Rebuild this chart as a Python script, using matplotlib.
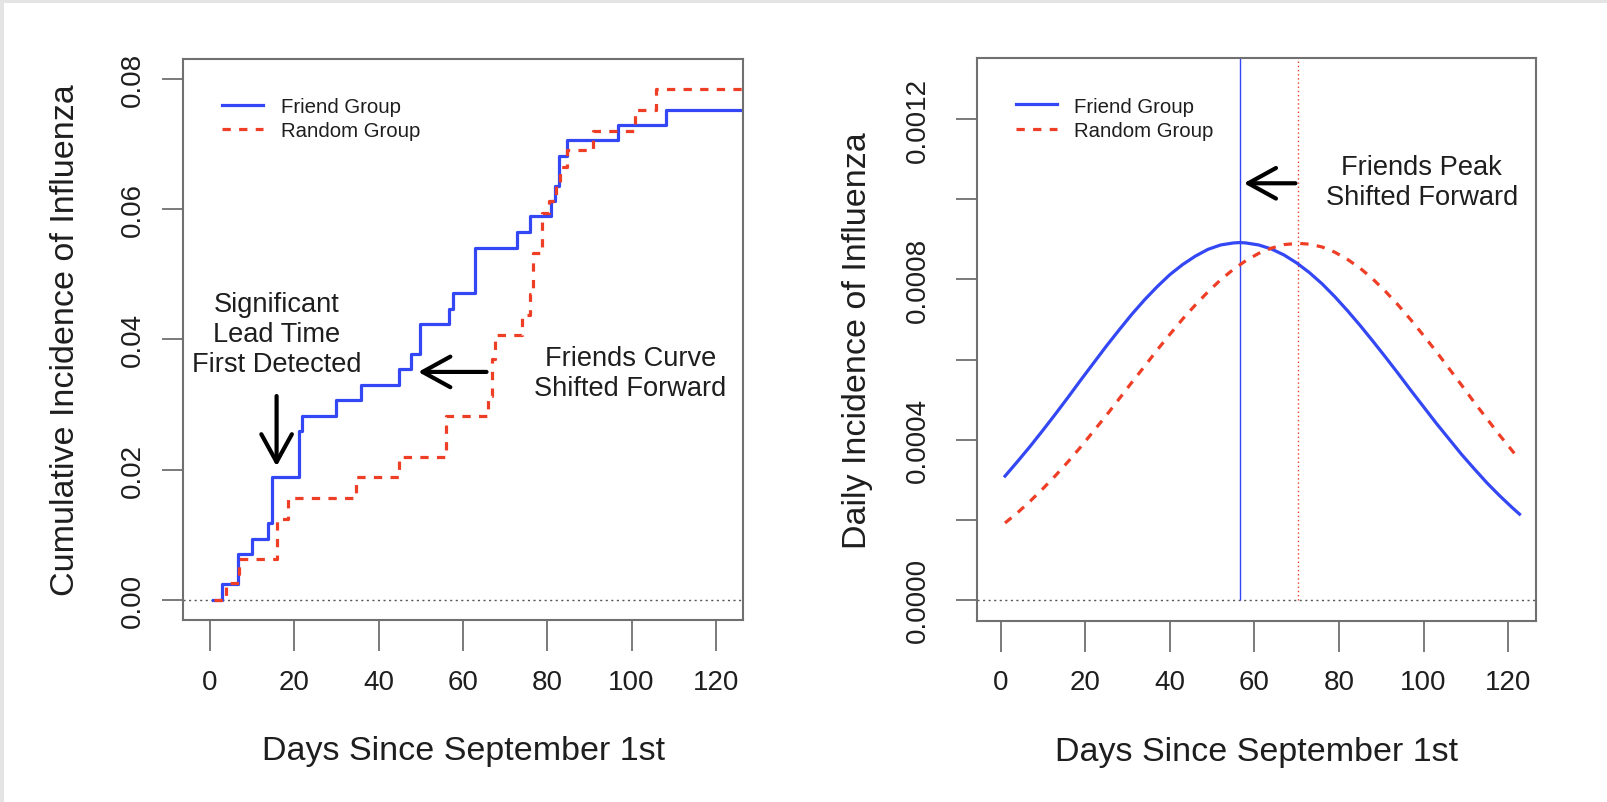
import matplotlib.pyplot as plt
from matplotlib.lines import Line2D
from matplotlib.patches import Rectangle

plt.rcParams['font.family'] = ['Liberation Sans', 'DejaVu Sans']

# cumulative incidence: day of each step and level after the step
cum_days_friend = [0.8, 2.8, 6.7, 9.9, 13.8, 14.6, 21.0, 21.8, 29.8, 35.8, 44.9, 47.6,
                   49.8, 56.6, 57.7, 62.9, 72.9, 75.8, 80.8, 81.9, 82.7, 84.8, 96.9,
                   108.2, 130.0]
cum_friend = [0.0, 0.0024, 0.0071, 0.0094, 0.0118, 0.0189, 0.0259, 0.0283, 0.0307,
              0.0330, 0.0354, 0.0378, 0.0424, 0.0447, 0.0471, 0.0541, 0.0565, 0.0589,
              0.0612, 0.0635, 0.0682, 0.0707, 0.0730, 0.0753, 0.0753]
cum_days_random = [1.0, 3.8, 6.8, 15.8, 18.6, 34.6, 44.9, 56.0, 66.0, 66.8, 67.5, 74.0,
                   75.9, 76.7, 78.7, 80.5, 82.0, 83.0, 84.8, 90.8, 100.9, 105.8, 130.0]
cum_random = [0.0, 0.0026, 0.0063, 0.0124, 0.0157, 0.0188, 0.0219, 0.0283, 0.0313,
              0.0370, 0.0406, 0.0438, 0.0469, 0.0532, 0.0594, 0.0612, 0.0640, 0.0665,
              0.0691, 0.0720, 0.0752, 0.0784, 0.0784]

# daily incidence (smoothed curves)
daily_days_friend = [1, 4, 7, 10, 13, 16, 19, 22, 25, 28, 31, 34, 37, 40, 43, 46, 49,
                     52, 55, 56.6, 58, 61, 64, 67, 70, 73, 76, 79, 82, 85, 88, 91, 94,
                     97, 100, 103, 106, 109, 112, 115, 118, 121, 122.7]
daily_friend = [0.000309, 0.000346, 0.000384, 0.000424, 0.000465, 0.000507, 0.000550,
                0.000592, 0.000634, 0.000674, 0.000713, 0.000749, 0.000782, 0.000812,
                0.000837, 0.000858, 0.000875, 0.000886, 0.000891, 0.000892, 0.000891,
                0.000886, 0.000876, 0.000861, 0.000841, 0.000817, 0.000789, 0.000757,
                0.000722, 0.000685, 0.000646, 0.000606, 0.000565, 0.000523, 0.000482,
                0.000441, 0.000402, 0.000363, 0.000327, 0.000292, 0.000260, 0.000230,
                0.000214]
daily_days_random = [1, 4, 7, 10, 13, 16, 19, 22, 25, 28, 31, 34, 37, 40, 43, 46, 49,
                     52, 55, 58, 61, 64, 67, 70.4, 73, 76, 79, 82, 85, 88, 91, 94, 97,
                     100, 103, 106, 109, 112, 115, 118, 121, 122.7]
daily_random = [0.000192, 0.000218, 0.000247, 0.000278, 0.000311, 0.000346, 0.000383,
                0.000422, 0.000461, 0.000502, 0.000543, 0.000583, 0.000624, 0.000663,
                0.000701, 0.000736, 0.000769, 0.000799, 0.000825, 0.000847, 0.000865,
                0.000878, 0.000887, 0.000890, 0.000888, 0.000881, 0.000868, 0.000850,
                0.000828, 0.000801, 0.000770, 0.000736, 0.000699, 0.000660, 0.000620,
                0.000578, 0.000536, 0.000493, 0.000452, 0.000411, 0.000372, 0.000350]
peak_friend = 56.6
peak_random = 70.4

x_ticks = [0, 20, 40, 60, 80, 100, 120]
cum_ticks = [0.00, 0.02, 0.04, 0.06, 0.08]
daily_ticks = [0.0, 0.0002, 0.0004, 0.0006, 0.0008, 0.0010, 0.0012]

blue = '#3347f4'
red = '#ef3e26'
gray = '#707070'
txt = '#1e1e1e'
dash = (0, (2.6, 2.6))

fig = plt.figure(figsize=(16.07, 8.03), dpi=100)
fig.add_artist(Rectangle((0, 0), 0.0028, 1, transform=fig.transFigure, color='#e4e4e4', lw=0))
fig.add_artist(Rectangle((0, 0.9944), 1, 0.0056, transform=fig.transFigure, color='#e4e4e4', lw=0))

ax1 = fig.add_axes([0.11406, 0.22665, 0.34847, 0.69863])
ax2 = fig.add_axes([0.60778, 0.22578, 0.34804, 0.70037])


def style(ax, ypad):
    for s in ax.spines.values():
        s.set_color(gray)
        s.set_linewidth(1.5)
    ax.tick_params(axis='x', length=22, width=1.3, color=gray, labelsize=20,
                   pad=13, labelcolor=txt)
    ax.tick_params(axis='y', length=15, width=1.3, color=gray, labelsize=20,
                   pad=ypad, labelcolor=txt)
    ax.set_xticks(x_ticks)
    ax.set_xlabel('Days Since September 1st', fontsize=24.5, color=txt)
    ax.xaxis.set_label_coords(0.5, -0.205)


def legend(ax):
    handles = [Line2D([], [], color=blue, lw=2.3),
               Line2D([], [], color=red, lw=2.3, linestyle=dash)]
    ax.legend(handles, ['Friend Group', 'Random Group'], loc='upper left',
              bbox_to_anchor=(0.07, 0.932), frameon=False, fontsize=14.7,
              handlelength=2.0, handletextpad=0.85, labelspacing=0.25,
              borderpad=0, borderaxespad=0, labelcolor=txt)


arrow = dict(arrowstyle='->, head_length=1.0, head_width=0.55', lw=3,
             color='black', shrinkA=0, shrinkB=0, mutation_scale=20)

# left: cumulative incidence
ax1.axhline(0, color='#555555', lw=1, linestyle=(0, (1.5, 2.5)))
ax1.step(cum_days_friend, cum_friend, where='post', color=blue, lw=2.3)
ax1.step(cum_days_random, cum_random, where='post', color=red, lw=2.3, linestyle=dash)
ax1.set_xlim(-6.33, 126.5)
ax1.set_ylim(-0.00311, 0.08307)
ax1.set_yticks(cum_ticks)
ax1.set_yticklabels(['0.00', '0.02', '0.04', '0.06', '0.08'], rotation=90, va='center')
ax1.set_ylabel('Cumulative Incidence of Influenza', fontsize=24.5, color=txt)
ax1.yaxis.set_label_coords(-0.1827, 0.5)
style(ax1, 12)
legend(ax1)
ax1.text(15.8, 0.0408, 'Significant\nLead Time\nFirst Detected', ha='center',
         va='center', fontsize=19.6, color=txt, linespacing=1.2)
ax1.annotate('', xy=(15.8, 0.0205), xytext=(15.8, 0.0313), arrowprops=arrow)
ax1.annotate('', xy=(49.4, 0.035), xytext=(65.6, 0.035), arrowprops=arrow)
ax1.text(99.7, 0.0349, 'Friends Curve\nShifted Forward', ha='center', va='center',
         fontsize=19.6, color=txt, linespacing=1.2)

# right: daily incidence
ax2.axhline(0, color='#555555', lw=1, linestyle=(0, (1.5, 2.5)))
ax2.vlines(peak_friend, 0, 0.002, color=blue, lw=1)
ax2.vlines(peak_random, 0, 0.002, color=red, lw=1, linestyle=(0, (1, 2)))
ax2.plot(daily_days_friend, daily_friend, color=blue, lw=2.3)
ax2.plot(daily_days_random, daily_random, color=red, lw=2.3, linestyle=dash)
ax2.set_xlim(-5.7, 126.6)
ax2.set_ylim(-0.000052, 0.001352)
ax2.set_yticks(daily_ticks)
ax2.set_yticklabels(['0.0000', '', '0.0004', '', '0.0008', '', '0.0012'],
                    rotation=90, va='center')
ax2.set_ylabel('Daily Incidence of Influenza', fontsize=24.5, color=txt)
ax2.yaxis.set_label_coords(-0.1863, 0.5)
style(ax2, 18)
legend(ax2)
ax2.annotate('', xy=(57.5, 0.00104), xytext=(69.7, 0.00104), arrowprops=arrow)
ax2.text(99.6, 0.0010435, 'Friends Peak\nShifted Forward', ha='center', va='center',
         fontsize=19.6, color=txt, linespacing=1.2)

plt.savefig('out.png', dpi=100)
